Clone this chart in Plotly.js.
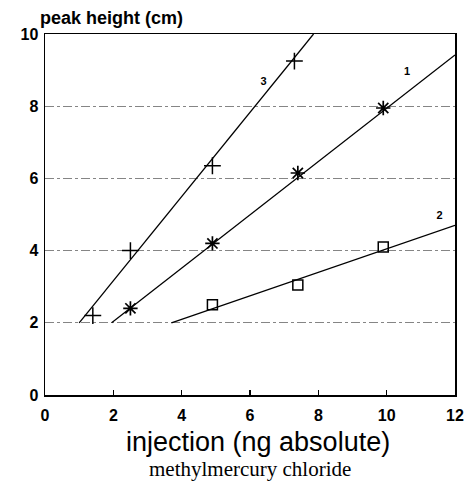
<!DOCTYPE html>
<html><head><meta charset="utf-8">
<script src="https://cdn.plot.ly/plotly-3.0.1.min.js"></script>
<style>body{margin:0;background:#fff}#c{width:465px;height:485px}</style>
</head><body><div id="c"></div>
<script>
// Measured points
var s3x = [1.4, 2.5, 4.9, 7.3];
var s3y = [2.2, 4.0, 6.35, 9.25];
var s1x = [2.5, 4.9, 7.4, 9.9];
var s1y = [2.4, 4.2, 6.15, 7.95];
var s2x = [4.9, 7.4, 9.9];
var s2y = [2.5, 3.05, 4.1];
// Fitted lines (endpoints)
var f3x = [1.0, 7.86];
var f3y = [2.0, 10.0];
var f1x = [1.95, 12.0];
var f1y = [2.0, 9.42];
var f2x = [3.7, 12.0];
var f2y = [2.0, 4.7];
// Curve labels
var labText = ['3', '1', '2'];
var labX = [6.4, 10.6, 11.55];
var labY = [8.65, 8.95, 4.95];
var xTicks = [0, 2, 4, 6, 8, 10, 12];
var yTicks = [0, 2, 4, 6, 8, 10];

var lineStyle = {color: '#000', width: 1.3};
var traces = [
  {x: f3x, y: f3y, mode: 'lines', line: lineStyle, hoverinfo: 'skip'},
  {x: f1x, y: f1y, mode: 'lines', line: lineStyle, hoverinfo: 'skip'},
  {x: f2x, y: f2y, mode: 'lines', line: lineStyle, hoverinfo: 'skip'},
  {x: s3x, y: s3y, mode: 'markers', marker: {symbol: 'cross-thin-open', size: 12, color: '#000', line: {color: '#000', width: 1.5}}},
  {x: s1x, y: s1y, mode: 'markers', marker: {symbol: 'asterisk-open', size: 12, color: '#000', line: {color: '#000', width: 1.7}}},
  {x: s2x, y: s2y, mode: 'markers', marker: {symbol: 'square-open', size: 10, color: '#000', line: {color: '#000', width: 1.5}}},
  {x: labX, y: labY, mode: 'text', text: labText, textfont: {family: 'Arial, Liberation Sans', size: 11, color: '#000', weight: 'bold'}, hoverinfo: 'skip'}
];

var layout = {
  width: 465, height: 485,
  margin: {l: 45, r: 10, t: 34, b: 90},
  paper_bgcolor: '#fff', plot_bgcolor: '#fff',
  showlegend: false,
  font: {family: 'Arial, Liberation Sans, sans-serif', color: '#000'},
  xaxis: {
    range: [0, 12], tickvals: xTicks, ticktext: xTicks.map(String),
    showgrid: false, zeroline: false, showline: true, mirror: true,
    linecolor: '#000', linewidth: 1.5, ticks: 'inside', ticklen: 5, tickwidth: 1.2, tickcolor: '#000',
    tickfont: {size: 16, weight: 'bold', color: '#000'}, ticklabelstandoff: 5
  },
  yaxis: {
    range: [0, 10], tickvals: yTicks, ticktext: yTicks.map(String),
    showgrid: true, gridcolor: '#666', gridwidth: 0.8, griddash: 'dashdot',
    zeroline: false, showline: true, mirror: true,
    linecolor: '#000', linewidth: 1.5, ticks: '', ticklabelstandoff: 2,
    tickfont: {size: 16, weight: 'bold', color: '#000'}
  },
  annotations: [
    {xref: 'paper', yref: 'paper', x: -0.017, y: 1.0, yshift: 4, xanchor: 'left', yanchor: 'bottom',
     text: '<b>peak height (cm)</b>', showarrow: false, font: {size: 18, color: '#000'}},
    {xref: 'paper', yref: 'paper', x: 0.52, y: 0, yshift: -30, xanchor: 'center', yanchor: 'top',
     text: 'injection (ng absolute)', showarrow: false, font: {size: 27, color: '#000'}},
    {xref: 'paper', yref: 'paper', x: 0.5, y: 0, yshift: -60, xanchor: 'center', yanchor: 'top',
     text: 'methylmercury chloride', showarrow: false, font: {family: 'Liberation Serif, DejaVu Serif, serif', size: 21, color: '#000'}}
  ]
};
Plotly.newPlot('c', traces, layout, {displayModeBar: false, staticPlot: true});
</script></body></html>
